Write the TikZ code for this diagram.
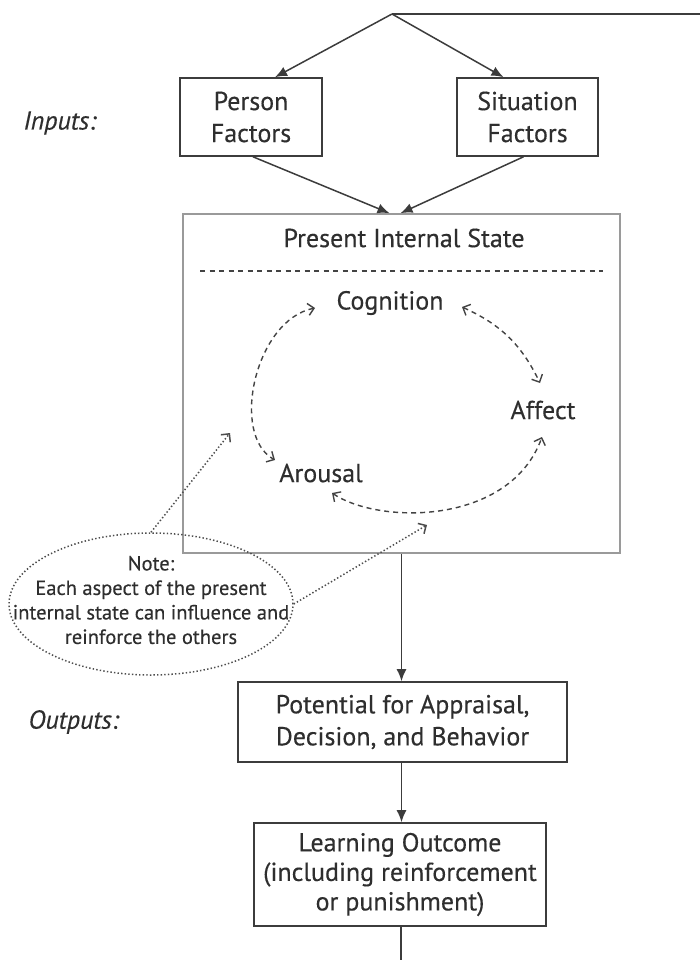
\documentclass[tikz,border=0pt]{standalone}
\usepackage{fontspec}
\setmainfont{PT Sans}[FakeBold=0.35]
\usetikzlibrary{arrows.meta,shapes.geometric}
\definecolor{ink}{HTML}{2E2E2E}
\definecolor{frame}{HTML}{3C3C3C}
\definecolor{lightframe}{HTML}{9A9A9A}
\begin{document}
\begin{tikzpicture}[x=1pt,y=-1pt,
  every node/.style={text=ink},
  mainfont/.style={font=\fontsize{26}{32}\selectfont},
  labelfont/.style={font=\itshape\fontsize{26}{30}\selectfont},
  box/.style={draw=frame,line width=1.6pt,align=center,inner sep=0pt,mainfont},
  flow/.style={draw=frame,line width=1.5pt,-{Latex[length=12pt,width=10pt]}},
  loop/.style={draw=ink!90,line width=1.4pt,dash pattern=on 5pt off 4pt,
    {Straight Barb[length=6pt,width=12pt]}-{Straight Barb[length=6pt,width=12pt]}},
  pointer/.style={draw=ink!85,line width=1.5pt,dash pattern=on 1.4pt off 2.2pt,
    -{Straight Barb[length=6pt,width=12pt]}},
]
\useasboundingbox (0,0) rectangle (700,960);

% side labels
\node[labelfont,anchor=west] (inputs) at (20,123) {Inputs:};
\node[labelfont,anchor=west] (outputs) at (25,722) {Outputs:};

% input boxes
\node[box,minimum width=142pt,minimum height=78pt] (person) at (251,117) {Person\\Factors};
\node[box,minimum width=141pt,minimum height=78pt] (situation) at (527.5,117) {Situation\\Factors};

% present internal state
\node[draw=lightframe,line width=1.6pt,minimum width=437pt,minimum height=339pt,inner sep=0pt] (pis) at (401.5,383.5) {};
\node[mainfont] (pistitle) at (404,238) {Present Internal State};
\coordinate (ruleL) at (200,271);
\coordinate (ruleR) at (603,271);
\draw[ink!90,line width=1.3pt,dash pattern=on 5pt off 4.5pt] (ruleL) -- (ruleR);

\node[mainfont] (cog) at (390,303) {Cognition};
\node[mainfont] (aff) at (543,410) {Affect};
\node[mainfont] (aro) at (321,473) {Arousal};

\draw[loop] ([shift={(72,4)}]cog.center) to[bend left=20] ([shift={(-3,-27)}]aff.center);
\draw[loop] ([shift={(-75,5)}]cog.center)
  .. controls ([shift={(-135,17)}]cog.center) and ([shift={(-91,-38)}]aro.center)
  .. ([shift={(-46,-13)}]aro.center);
\draw[loop] ([shift={(11,20)}]aro.center)
  .. controls ([shift={(59,52)}]aro.center) and ([shift={(-33,115)}]aff.center)
  .. ([shift={(-1,27)}]aff.center);

% note
\node[draw=ink!85,ellipse,line width=1.5pt,dash pattern=on 1.4pt off 2.2pt,
  minimum width=284pt,minimum height=142pt,inner sep=0pt] (note) at (151,604) {};
\node[font=\fontsize{20.5}{24.5}\selectfont,align=center] (notetext) at (151,600)
  {Note:\\Each aspect of the present\\internal state can influence and\\reinforce the others};
\coordinate (tipA) at (230,433);
\coordinate (tipB) at (427,525);
\draw[pointer] (note.north) -- (tipA);
\draw[pointer] (note.east) -- (tipB);

% outputs
\node[box,minimum width=329pt,minimum height=80pt] (potential) at (402.5,722) {Potential for Appraisal,\\Decision, and Behavior};
\node[box,font=\fontsize{26}{29.5}\selectfont,minimum width=292pt,minimum height=103pt] (learning) at (400,874.5) {Learning Outcome\\(including reinforcement\\or punishment)};

% connectors
\coordinate (split) at (392,14);
\coordinate (topright) at (700,14);
\coordinate (exit) at (401,960);
\draw[frame,line width=1.5pt] (split) -- (topright);
\draw[flow] (split) -- ([xshift=24pt]person.north);
\draw[flow] (split) -- ([xshift=-24pt]situation.north);
\draw[flow] ([xshift=2pt]person.south) -- ([xshift=-12pt]pis.north);
\draw[flow] ([xshift=-4pt]situation.south) -- ([xshift=-1pt]pis.north);
\draw[flow] (pis.south) -- (pis.south |- potential.north);
\draw[flow] (pis.south |- potential.south) -- (pis.south |- learning.north);
\draw[frame,line width=1.5pt] (exit |- learning.south) -- (exit);
\end{tikzpicture}
\end{document}
